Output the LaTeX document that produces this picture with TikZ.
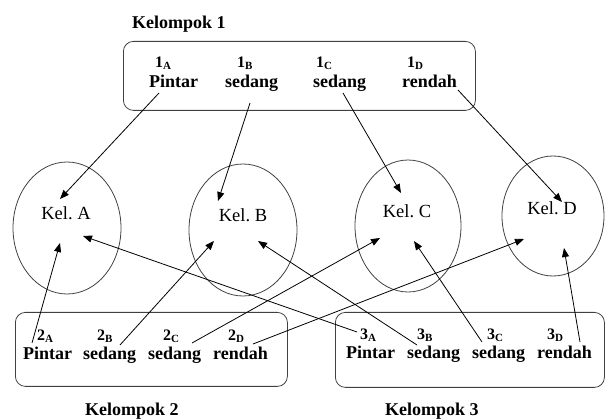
\documentclass[tikz,border=0pt]{standalone}
\usepackage{fontspec}
\setmainfont{Liberation Serif}
\usetikzlibrary{arrows.meta,shapes.geometric}
\frenchspacing
\tikzset{
  grp/.style={draw=black!75,line width=0.8pt,rounded corners=10pt},
  kel/.style={draw=black!75,line width=0.8pt,ellipse,inner sep=0pt},
  word/.style={anchor=base west,inner sep=0pt,font=\fontsize{18}{20}\selectfont\bfseries},
  num/.style={anchor=base west,inner sep=0pt,font=\fontsize{16}{18}\selectfont\bfseries},
  title/.style={anchor=base west,inner sep=0pt,font=\fontsize{18}{20}\selectfont\bfseries},
  klabel/.style={inner sep=0pt,font=\fontsize{18.5}{20}\selectfont},
  arr/.style={line width=0.8pt,-{Triangle[length=9pt,width=7pt]}}
}
\newcommand{\sbx}[1]{\raisebox{-1.5pt}{\fontsize{11}{12}\selectfont\bfseries #1}}
\begin{document}
\begin{tikzpicture}[x=1pt,y=-1pt]
\useasboundingbox (0,0) rectangle (605,419);
% group boxes
\node[grp,minimum width=352pt,minimum height=69pt,anchor=north west] (box1) at (123,41) {};
\node[grp,minimum width=272pt,minimum height=74pt,anchor=north west] (box2) at (15,312) {};
\node[grp,minimum width=269pt,minimum height=75pt,anchor=north west] (box3) at (335,312) {};
% titles
\node[title] (t1) at (132,29) {Kelompok 1};
\node[title] (t2) at (85,416) {Kelompok 2};
\node[title] (t3) at (385,416) {Kelompok 3};
% row 1
\node[num] (n1a) at (155,68) {1\sbx{A}};
\node[num] (n1b) at (237,68) {1\sbx{B}};
\node[num] (n1c) at (316,68) {1\sbx{C}};
\node[num] (n1d) at (407,68) {1\sbx{D}};
\node[word] (w1a) at (149,88) {Pintar};
\node[word] (w1b) at (225,88) {sedang};
\node[word] (w1c) at (313,88) {sedang};
\node[word] (w1d) at (402,88) {rendah};
% row 2
\node[num] (n2a) at (37,341) {2\sbx{A}};
\node[num] (n2b) at (97,341) {2\sbx{B}};
\node[num] (n2c) at (163,341) {2\sbx{C}};
\node[num] (n2d) at (228,341) {2\sbx{D}};
\node[word] (w2a) at (23,360) {Pintar};
\node[word] (w2b) at (83,360) {sedang};
\node[word] (w2c) at (148,360) {sedang};
\node[word] (w2d) at (213,360) {rendah};
% row 3
\node[num] (n3a) at (360,340) {3\sbx{A}};
\node[num] (n3b) at (417,340) {3\sbx{B}};
\node[num] (n3c) at (487,340) {3\sbx{C}};
\node[num] (n3d) at (547,340) {3\sbx{D}};
\node[word] (w3a) at (346,359) {Pintar};
\node[word] (w3b) at (407,359) {sedang};
\node[word] (w3c) at (472,359) {sedang};
\node[word] (w3d) at (537,359) {rendah};
% ellipses
\node[kel,minimum width=108pt,minimum height=132pt] (ka) at (67,228) {};
\node[kel,minimum width=108pt,minimum height=132pt] (kb) at (243,230) {};
\node[kel,minimum width=106pt,minimum height=132pt] (kc) at (408,226) {};
\node[kel,minimum width=102pt,minimum height=120pt] (kd) at (553,216) {};
\node[klabel] (la) at (66,213) {Kel. A};
\node[klabel] (lb) at (243,215) {Kel. B};
\node[klabel] (lc) at (407,211) {Kel. C};
\node[klabel] (ld) at (552,208) {Kel. D};
% arrow ends
\coordinate (s1a) at (159,93);
\coordinate (s1b) at (250,103);
\coordinate (s1c) at (343,93);
\coordinate (s1d) at (458,90);
\coordinate (e1a) at (60,199);
\coordinate (e1b) at (218,201);
\coordinate (e1c) at (401,193);
\coordinate (e1d) at (562,202);
\coordinate (s2a) at (32,343);
\coordinate (s2b) at (120,345);
\coordinate (s2c) at (192,343);
\coordinate (s2d) at (253,344);
\coordinate (s3a) at (357,332);
\coordinate (s3b) at (417,345);
\coordinate (s3c) at (482,342);
\coordinate (s3d) at (580,342);
\coordinate (e2a) at (60,243);
\coordinate (e2b) at (214,241);
\coordinate (e2c) at (380,238);
\coordinate (e2d) at (524,239);
\coordinate (e3a) at (83,236);
\coordinate (e3b) at (258,241);
\coordinate (e3c) at (414,241);
\coordinate (e3d) at (564,248);
% arrows
\draw[arr] (s1a) -- (e1a);
\draw[arr] (s1b) -- (e1b);
\draw[arr] (s1c) -- (e1c);
\draw[arr] (s1d) -- (e1d);
\draw[arr] (s2a) -- (e2a);
\draw[arr] (s2b) -- (e2b);
\draw[arr] (s2c) -- (e2c);
\draw[arr] (s2d) -- (e2d);
\draw[arr] (s3a) -- (e3a);
\draw[arr] (s3b) -- (e3b);
\draw[arr] (s3c) -- (e3c);
\draw[arr] (s3d) -- (e3d);
\end{tikzpicture}
\end{document}
